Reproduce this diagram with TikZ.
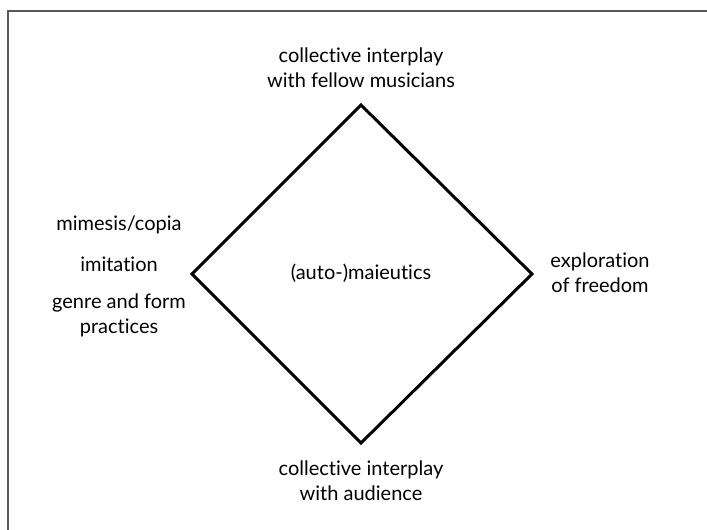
\documentclass[tikz,border=0pt]{standalone}
\usepackage{fontspec}
\setmainfont{Lato}[Ligatures={NoCommon,NoRare}]
\usepackage{tikz}
\usetikzlibrary{positioning}

\tikzset{lbl/.style={align=center,inner sep=0pt,font=\fontsize{20}{25}\selectfont}}

\begin{document}
\begin{tikzpicture}[x=1pt,y=-1pt]
\useasboundingbox (0,0) rectangle (707,530);
\draw[black!65,line width=2pt] (8,530) -- (8,11) -- (707,11);
\coordinate (top) at (361,105);
\coordinate (lft) at (192,274);
\coordinate (rgt) at (532,274);
\coordinate (bot) at (361,443);
\draw[black,line width=3pt,line join=miter] (top) -- (rgt) -- (bot) -- (lft) -- cycle;
\node[lbl] (center) at (361,273) {(auto-)maieutics};
\node[lbl] (musicians) at (361,68) {collective interplay\\with fellow musicians};
\node[lbl] (audience) at (361,481) {collective interplay\\with audience};
\node[lbl] (freedom) at (600,273) {exploration\\of freedom};
\node[lbl] (mimesis) at (119,225) {mimesis/copia};
\node[lbl] (imitation) at (119,264) {imitation};
\node[lbl] (genre) at (119,315) {genre and form\\practices};
\end{tikzpicture}
\end{document}
